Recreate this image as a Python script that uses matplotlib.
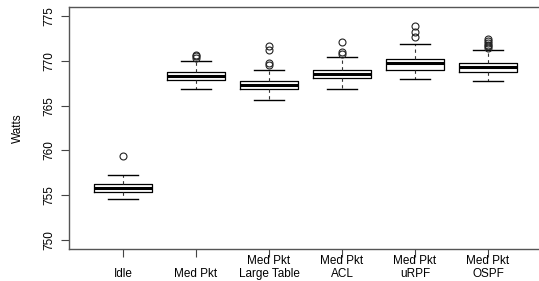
import matplotlib
matplotlib.use("Agg")
import matplotlib.pyplot as plt

categories = ["Idle", "Med Pkt", "Med Pkt\nLarge Table", "Med Pkt\nACL", "Med Pkt\nuRPF", "Med Pkt\nOSPF"]
whislo = [754.56, 766.82, 765.63, 766.82, 768.00, 767.78]
q1 = [755.37, 767.82, 766.85, 768.04, 768.96, 768.74]
med = [755.78, 768.30, 767.30, 768.56, 769.74, 769.26]
q3 = [756.26, 768.74, 767.78, 768.93, 770.19, 769.74]
whishi = [757.26, 769.96, 768.96, 770.40, 771.90, 771.15]
fliers = [
    [759.4],
    [770.3, 770.5, 770.7],
    [769.5, 769.7, 771.2, 771.7],
    [770.75, 771.0, 772.1],
    [772.6, 773.2, 773.85],
    [771.4, 771.6, 771.8, 772.0, 772.2, 772.4],
]
yticks = [750, 755, 760, 765, 770, 775]

plt.rcParams['font.family'] = ['Liberation Sans', 'DejaVu Sans']

fig = plt.figure(figsize=(5.39, 2.81), dpi=100)
ax = fig.add_axes([69/539, 1-249/281, (542-69)/539, (249-7)/281])

stats = []
for i in range(len(categories)):
    stats.append(dict(whislo=whislo[i], q1=q1[i], med=med[i], q3=q3[i],
                      whishi=whishi[i], fliers=fliers[i]))

positions = list(range(1, len(categories)+1))
ax.bxp(stats, positions=positions, widths=0.8, showfliers=True,
       boxprops=dict(color='black', linewidth=0.9),
       medianprops=dict(color='black', linewidth=2.2, solid_capstyle='butt'),
       whiskerprops=dict(color='#333333', linewidth=0.8, linestyle=(0, (3, 3))),
       capprops=dict(color='black', linewidth=1.0),
       capwidths=0.4,
       flierprops=dict(marker='o', markerfacecolor='none', markeredgecolor='#222222',
                       markersize=5, markeredgewidth=0.8, linestyle='none'))

ax.set_xlim(0.26, 6.74)
ax.set_ylim(749, 776)
ax.set_yticks(yticks)
ax.set_yticklabels([str(t) for t in yticks], rotation=90, va='center', fontsize=8.5)
ax.set_xticks(positions)
ax.set_xticklabels(categories, fontsize=8.5, linespacing=1.05)
for lab in ax.get_xticklabels():
    lab.set_va('bottom')
ax.tick_params(axis='x', length=5.5, width=0.8, color='#444444', pad=16.5)
ax.tick_params(axis='y', length=5.5, width=0.8, color='#444444', pad=4)
for s in ax.spines.values():
    s.set_color('#555555')
    s.set_linewidth(1.0)
ax.set_ylabel("Watts", fontsize=8.5, labelpad=14)

fig.savefig("out.png", dpi=100)
